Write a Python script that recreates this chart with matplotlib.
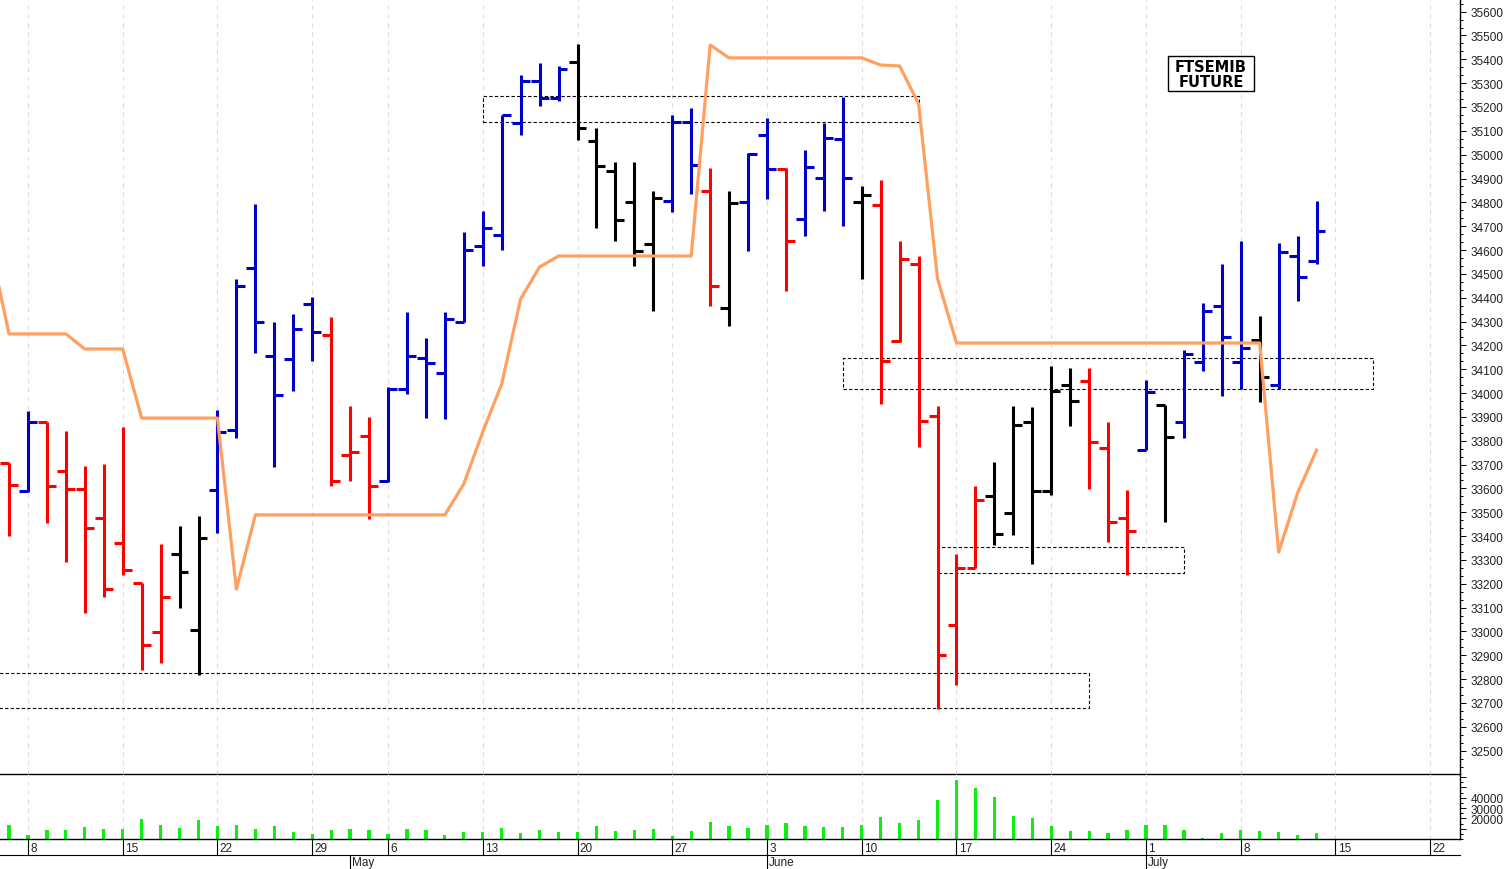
import matplotlib
matplotlib.use("Agg")
import matplotlib.pyplot as plt
import matplotlib.transforms as mtransforms
from matplotlib.patches import Rectangle
from matplotlib.ticker import MultipleLocator, FixedLocator, FuncFormatter
import numpy as np
import pandas as pd

plt.rcParams['font.family'] = ['Liberation Sans', 'DejaVu Sans']

# daily FTSEMIB future bars, 5 Apr - 12 Jul 2024 (1 May closed)
opens = [33707, 33591, 33880, 33673, 33598, 33476, 33371, 33204, 32997, 33325,
         33006, 33592, 33847, 34524, 34155, 34143, 34374, 34245, 33741, 33819,
         33630, 34017, 34146, 34084, 34297, 34617, 34665, 35132, 35311, 35238,
         35388, 35059, 34931, 34802, 34626, 34807, 35136, 34847, 34356, 34803,
         35083, 34940, 34730, 34901, 35066, 34800, 34789, 34220, 34540, 33905,
         33027, 33268, 33569, 33497, 33880, 33591, 34034, 34050, 33770, 33475,
         33762, 33950, 33878, 34129, 34367, 34129, 34223, 34034, 34574, 34556]
highs = [33707, 33926, 33880, 33840, 33693, 33703, 33859, 33204, 33367, 33441,
         33486, 33931, 34479, 34793, 34300, 34332, 34402, 34318, 33945, 33901,
         34025, 34339, 34231, 34339, 34675, 34765, 35168, 35334, 35384, 35371,
         35465, 35112, 34968, 34968, 34847, 35168, 35195, 34943, 34849, 35007,
         35153, 34943, 35021, 35133, 35243, 34868, 34894, 34639, 34577, 33947,
         33325, 33612, 33712, 33947, 33941, 34115, 34105, 34105, 33880, 33594,
         34055, 33950, 34179, 34378, 34542, 34639, 34325, 34628, 34658, 34807]
lows = [33402, 33587, 33455, 33290, 33078, 33144, 33237, 32839, 32867, 33100,
        32819, 33413, 33811, 34167, 33691, 34010, 34136, 33612, 33630, 33472,
        33625, 33996, 33894, 33891, 34297, 34535, 34600, 35083, 35206, 35227,
        35062, 34691, 34637, 34533, 34343, 34759, 34835, 34364, 34283, 34595,
        34814, 34427, 34658, 34762, 34700, 34479, 33954, 34216, 33773, 32675,
        32776, 33268, 33363, 33405, 33282, 33574, 33861, 33598, 33377, 33237,
        33762, 33458, 33811, 34094, 33987, 34017, 33962, 34017, 34385, 34542]
closes = [33615, 33878, 33609, 33598, 33434, 33176, 33259, 32945, 33144, 33251,
          33391, 33835, 34448, 34297, 33993, 34269, 34255, 33630, 33752, 33612,
          34017, 34157, 34126, 34311, 34600, 34691, 35167, 35309, 35238, 35360,
          35112, 34954, 34726, 34595, 34819, 35136, 34958, 34448, 34798, 35003,
          34940, 34639, 34947, 35069, 34901, 34831, 34134, 34563, 33884, 32902,
          33268, 33553, 33409, 33865, 33591, 34008, 33966, 33794, 33458, 33423,
          34004, 33815, 34164, 34346, 34235, 34188, 34066, 34593, 34486, 34679]
bar_colors = list("rbrrrrrrrk" "kbbbbbbrrr" "bbbbbbbbbb" "kkkkkbbrkb"
                  "brbbbkrrrr" "rrkkkkkrrr" "bkbbbbkbbb")
volumes = [13600, 4200, 8400, 8400, 11400, 9400, 10000, 19400, 13600, 10400,
           18400, 12300, 13600, 9400, 12600, 6500, 4600, 8700, 9400, 8400,
           4900, 9700, 8400, 3600, 7100, 6800, 10400, 5800, 8700, 6800,
           6800, 12300, 7800, 8700, 9700, 2900, 7800, 16800, 12600, 10700,
           13600, 15500, 12600, 11700, 11700, 13600, 21400, 15500, 18400, 37900,
           57300, 49500, 40800, 22000, 20400, 12600, 7500, 8100, 6100, 8400,
           13600, 13600, 9000, 700, 6100, 9000, 8100, 6500, 4200, 5500]
# orange line, starts one bar before the first visible bar
trend = [34621,
         34248, 34248, 34248, 34248, 34185, 34185, 34185, 33895, 33895, 33895,
         33895, 33895, 33178, 33489, 33489, 33489, 33489, 33489, 33489, 33489,
         33489, 33489, 33489, 33489, 33619, 33837, 34038, 34395, 34529, 34575,
         34575, 34575, 34575, 34575, 34575, 34575, 34575, 35460, 35406, 35406,
         35406, 35406, 35406, 35406, 35406, 35406, 35376, 35372, 35213, 34479,
         34210, 34210, 34210, 34210, 34210, 34210, 34210, 34210, 34210, 34210,
         34210, 34210, 34210, 34210, 34210, 34210, 34210, 33333, 33581, 33761]
# dotted boxes (bar index from/to, price low/high)
zone_start = [25, 44, 49, -2]
zone_end = [48, 72, 62, 57]
zone_low = [35136, 34017, 33244, 32678]
zone_high = [35245, 34146, 33353, 32825]

days = pd.bdate_range("2024-04-05", "2024-07-26")
days = days[days != pd.Timestamp("2024-05-01")]
n = len(opens)
idx = np.arange(n)
mondays = [i for i, d in enumerate(days) if d.dayofweek == 0]
month_starts = [i for i in range(1, len(days)) if days[i].month != days[i - 1].month]

W, H = 1508, 870
fig = plt.figure(figsize=(W / 100, H / 100), dpi=100)
ax = fig.add_axes([0, 1 - 775 / H, 1460 / W, 775 / H])
axv = fig.add_axes([0, 1 - 840 / H, 1460 / W, 65 / H], sharex=ax)
axv.patch.set_visible(False)

cmap = {'r': '#ff0000', 'b': '#0000cc', 'k': '#000000'}
for i in idx:
    c = cmap[bar_colors[i]]
    ax.plot([i, i], [lows[i], highs[i]], color=c, lw=2.2, solid_capstyle='butt', zorder=2)
    ax.plot([i - 0.47, i], [opens[i], opens[i]], color=c, lw=2.2, solid_capstyle='butt', zorder=2)
    ax.plot([i, i + 0.47], [closes[i], closes[i]], color=c, lw=2.2, solid_capstyle='butt', zorder=2)

ax.plot(np.arange(-1, n), trend, color='#ffa060', lw=2.3, zorder=3)

for s, e, lo, hi in zip(zone_start, zone_end, zone_low, zone_high):
    ax.add_patch(Rectangle((s, lo), e - s, hi - lo, fill=False, ec='black',
                           lw=0.8, ls=(0, (3, 2)), zorder=1))

for m in mondays:
    ax.axvline(m, color='#dcdcdc', lw=0.8, ls=(0, (4, 4)), zorder=0)
    axv.axvline(m, color='#dcdcdc', lw=0.8, ls=(0, (4, 4)), zorder=0)

axv.bar(idx, volumes, width=0.17, color='#10ee10', zorder=2)

ax.set_xlim(-0.475, 76.57)
ax.set_ylim(32402, 35653)
axv.set_ylim(0, 63100)

for a in (ax, axv):
    a.spines['left'].set_visible(False)
    a.spines['top'].set_visible(False)
    a.spines['right'].set_linewidth(1)
    a.spines['bottom'].set_linewidth(1)
    a.spines['bottom'].set_color('black')
    a.yaxis.tick_right()
    a.tick_params(axis='x', which='both', bottom=False, labelbottom=False)
    a.tick_params(axis='y', which='major', direction='out', length=4.3, width=0.7,
                  labelsize=8.5, pad=3.5, labelcolor='#222222')
    a.tick_params(axis='y', which='minor', direction='out', length=2.2, width=0.7)

ax.yaxis.set_major_locator(MultipleLocator(100))
ax.yaxis.set_minor_locator(MultipleLocator(100 / 3))
axv.yaxis.set_major_locator(FixedLocator([10000, 20000, 30000, 40000, 50000, 60000]))
axv.yaxis.set_minor_locator(MultipleLocator(5000))
axv.yaxis.set_major_formatter(FuncFormatter(
    lambda v, p: '%d' % v if 20000 <= v <= 40000 else ''))

# date axis under the volume panel
trans = mtransforms.blended_transform_factory(axv.transData, axv.transAxes)
d1 = -16 / 65
d2 = -31 / 65
axv.plot([0, 1], [d1, d1], transform=axv.transAxes, color='black', lw=0.8, clip_on=False)
for m in mondays:
    axv.plot([m, m], [0, d1], transform=trans, color='black', lw=0.8, clip_on=False)
    axv.text(m + 0.12, -0.04, str(days[m].day), transform=trans, ha='left', va='top',
             fontsize=8.5, color='#222222')
for m in month_starts:
    axv.plot([m, m], [d1, d2], transform=trans, color='black', lw=0.8, clip_on=False)
    axv.text(m + 0.12, d1 - 0.02, days[m].strftime('%B') if days[m].month != 5 else 'May',
             transform=trans, ha='left', va='top', fontsize=8.5, color='#222222')

# title box
fig.patches.append(Rectangle((1168 / W, 1 - 92 / H), 86 / W, 35 / H, transform=fig.transFigure,
                             facecolor='white', edgecolor='black', lw=1, zorder=5))
fig.text(1211 / W, 1 - 75 / H, "FTSEMIB\nFUTURE", ha='center', va='center',
         fontsize=10.5, fontweight='bold', family='DejaVu Sans', linespacing=0.95, zorder=6)

fig.savefig("out.png", dpi=100)
